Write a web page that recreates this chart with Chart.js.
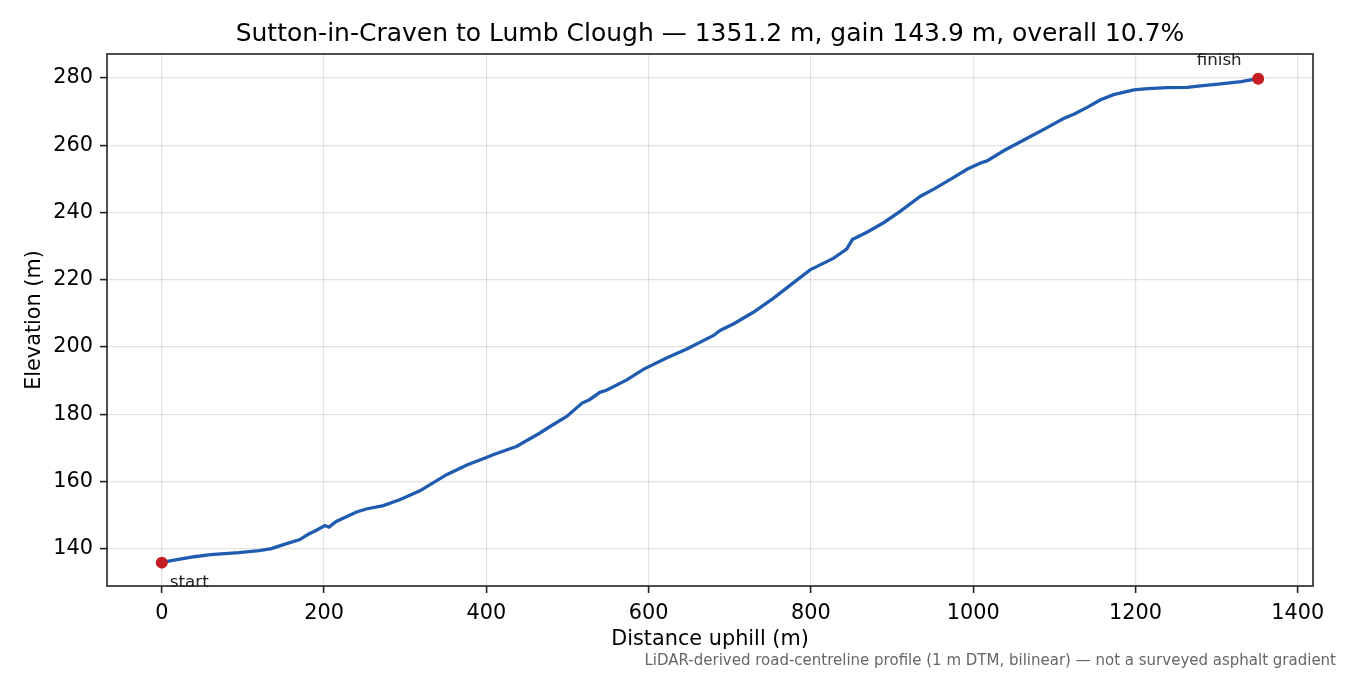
<!DOCTYPE html>
<html>
<head>
<meta charset="utf-8">
<script src="https://cdn.jsdelivr.net/npm/chart.js@4.4.0/dist/chart.umd.min.js"></script>
<style>
  html, body { margin: 0; padding: 0; background: #fff; }
  #wrap { width: 1350px; height: 675px; }
</style>
</head>
<body>
<div id="wrap"><canvas id="profile" width="1350" height="675"></canvas></div>
<script>
// distance along the road (m) and elevation (m)
const distance = [0, 10, 40, 60, 95, 120, 135, 150, 170, 180, 190, 201, 206, 215, 240, 252, 273, 294, 318, 351, 376, 400, 409, 437, 466, 479, 499, 518, 527, 540, 548, 573, 594, 622, 647, 680, 688, 705, 729, 754, 779, 799, 828, 844, 851, 869, 890, 910, 935, 952, 976, 993, 1009, 1017, 1038, 1067, 1091, 1112, 1124, 1141, 1157, 1173, 1198, 1215, 1239, 1264, 1280, 1305, 1330, 1351.2];
const elevation = [135.85, 136.4, 137.6, 138.2, 138.8, 139.4, 140.0, 141.2, 142.7, 144.2, 145.4, 146.9, 146.4, 148.1, 150.9, 151.8, 152.8, 154.6, 157.2, 162.0, 164.9, 167.1, 168.0, 170.4, 174.4, 176.4, 179.3, 183.3, 184.3, 186.5, 187.1, 190.2, 193.4, 196.7, 199.4, 203.4, 204.9, 206.9, 210.3, 214.5, 219.2, 222.9, 226.4, 229.1, 231.9, 234.1, 237.0, 240.3, 244.8, 247.0, 250.4, 252.9, 254.7, 255.3, 258.4, 262.1, 265.2, 268.0, 269.2, 271.3, 273.5, 275.0, 276.4, 276.8, 277.1, 277.2, 277.6, 278.2, 278.9, 279.75];

const xTicks = [0, 200, 400, 600, 800, 1000, 1200, 1400];
const yTicks = [140, 160, 180, 200, 220, 240, 260, 280];
const endLabels = ['start', 'finish'];

const titleText = 'Sutton-in-Craven to Lumb Clough \u2014 1351.2 m, gain 143.9 m, overall 10.7%';
const xTitle = 'Distance uphill (m)';
const yTitle = 'Elevation (m)';
const footText = 'LiDAR-derived road-centreline profile (1 m DTM, bilinear) \u2014 not a surveyed asphalt gradient';

const FONT = '"DejaVu Sans", sans-serif';

const profile = distance.map((d, i) => ({ x: d, y: elevation[i] }));
const last = distance.length - 1;
const ends = [
    { x: distance[0], y: elevation[0] },
    { x: distance[last], y: elevation[last] }
];

// title, axis titles, footnote, frame and start/finish labels
const extras = {
    id: 'extras',
    afterDraw(chart) {
        const { ctx, chartArea: a, scales } = chart;
        ctx.save();
        ctx.strokeStyle = '#222';
        ctx.lineWidth = 1.6;
        ctx.strokeRect(a.left, a.top, a.right - a.left, a.bottom - a.top);

        ctx.fillStyle = '#000';
        ctx.textBaseline = 'middle';
        ctx.textAlign = 'center';
        ctx.font = '25px ' + FONT;
        ctx.fillText(titleText, (a.left + a.right) / 2, 34);

        ctx.font = '20.8px ' + FONT;
        ctx.fillText(xTitle, (a.left + a.right) / 2, 640);
        ctx.save();
        ctx.translate(35, (a.top + a.bottom) / 2);
        ctx.rotate(-Math.PI / 2);
        ctx.fillText(yTitle, 0, 0);
        ctx.restore();

        ctx.fillStyle = '#666';
        ctx.font = '15px ' + FONT;
        ctx.textAlign = 'right';
        ctx.fillText(footText, 1336, 661);

        ctx.fillStyle = '#222';
        ctx.font = '16.7px ' + FONT;
        const sx = scales.x.getPixelForValue(ends[0].x);
        const sy = scales.y.getPixelForValue(ends[0].y);
        ctx.textAlign = 'left';
        ctx.fillText(endLabels[0], sx + 8, sy + 20);
        const fx = scales.x.getPixelForValue(ends[1].x);
        const fy = scales.y.getPixelForValue(ends[1].y);
        ctx.textAlign = 'center';
        ctx.fillText(endLabels[1], fx - 39, fy - 18);
        ctx.restore();
    }
};

new Chart(document.getElementById('profile'), {
    type: 'line',
    data: {
        datasets: [
            {
                data: ends,
                showLine: false,
                pointRadius: 6,
                pointBackgroundColor: '#c41e24',
                pointBorderWidth: 0,
                order: 0
            },
            {
                data: profile,
                borderColor: '#1f5cb0',
                borderWidth: 3.3,
                pointRadius: 0,
                tension: 0,
                order: 1
            }
        ]
    },
    options: {
        responsive: false,
        animation: false,
        layout: { padding: { left: 0, right: 37, top: 54, bottom: 20 } },
        plugins: { legend: { display: false }, tooltip: { enabled: false } },
        scales: {
            x: {
                type: 'linear',
                min: -67.56,
                max: 1418.76,
                afterBuildTicks: (s) => { s.ticks = xTicks.map(v => ({ value: v })); },
                afterFit: (s) => { s.height = 69; },
                grid: { color: 'rgba(0,0,0,0.11)', lineWidth: 1.2, tickColor: '#222', tickWidth: 1.6, tickLength: 7 },
                border: { display: false },
                ticks: { color: '#000', font: { family: FONT, size: 20.8 }, padding: 8, maxRotation: 0, callback: (v) => String(v) }
            },
            y: {
                min: 128.9,
                max: 287.1,
                afterBuildTicks: (s) => { s.ticks = yTicks.map(v => ({ value: v })); },
                afterFit: (s) => { s.width = 107; },
                grid: { color: 'rgba(0,0,0,0.11)', lineWidth: 1.2, tickColor: '#222', tickWidth: 1.6, tickLength: 7 },
                border: { display: false },
                ticks: { color: '#000', font: { family: FONT, size: 20.8 }, padding: 7, callback: (v) => String(v) }
            }
        }
    },
    plugins: [extras]
});
</script>
</body>
</html>
